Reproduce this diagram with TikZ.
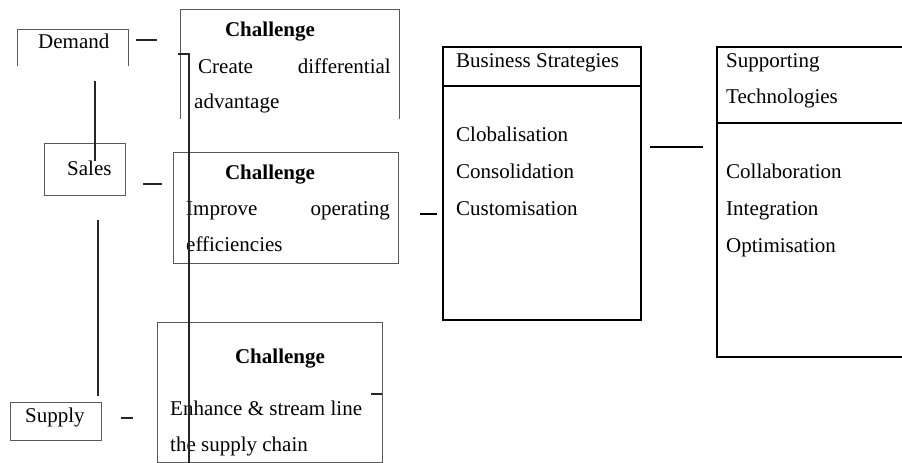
\documentclass[tikz,border=0pt]{standalone}
\usepackage{fontspec}
\setmainfont{Liberation Serif}
\begin{document}
\begin{tikzpicture}[x=1pt,y=-1pt,
  thinbox/.style={draw=black!65, line width=0.9pt},
  thickbox/.style={draw=black, line width=2pt},
  rule/.style={draw=black!85, line width=1.1pt},
  heavyrule/.style={draw=black, line width=1.8pt},
  txt/.style={font=\fontsize{21}{25}\selectfont, inner sep=0pt, anchor=base west},
  txtr/.style={txt, anchor=base east},
  head/.style={font=\fontsize{21}{25}\selectfont\bfseries, inner sep=0pt, anchor=base}]
\useasboundingbox (0,0) rectangle (902,463);
\clip (0,0) rectangle (902,463);

% ---- left column boxes
\draw[thinbox] (17,66) -- (17,29) -- (128,29) -- (128,66);
\node[txt] (demand) at (38,48) {Demand};

\draw[thinbox] (44,143) rectangle (125,195);
\node[txt] (sales) at (67,175) {Sales};

\draw[thinbox] (10,402) rectangle (101,440);
\node[txt] (supply) at (25,422) {Supply};

% ---- challenge boxes
\draw[thinbox] (180,119) -- (180,9) -- (399,9) -- (399,119);
\node[head] (ch1) at (270,36) {Challenge};
\node[txt] (c1a) at (198,73) {Create};
\node[txtr] (c1b) at (391,73) {differential};
\node[txt] (c1c) at (194,108) {advantage};

\draw[thinbox] (173,152) rectangle (398,263);
\node[head] (ch2) at (270,179) {Challenge};
\node[txt] (c2a) at (186,215) {Improve};
\node[txtr] (c2b) at (390,215) {operating};
\node[txt] (c2c) at (186,251) {efficiencies};

\draw[thinbox] (157,322) rectangle (382,462);
\node[head] (ch3) at (280,363) {Challenge};
\node[txt] (c3a) at (170,415) {Enhance \& stream line};
\node[txt] (c3b) at (170,451) {the supply chain};

% ---- business strategies
\draw[thickbox] (443,47) rectangle (641,320);
\draw[thickbox] (443,86) -- (641,86);
\node[txt] (bs) at (456,67) {Business Strategies};
\node[txt] (bs1) at (456,141) {Clobalisation};
\node[txt] (bs2) at (456,178) {Consolidation};
\node[txt] (bs3) at (456,215) {Customisation};

% ---- supporting technologies
\draw[thickbox] (920,47) -- (717,47) -- (717,357) -- (920,357);
\draw[thickbox] (717,123) -- (920,123);
\node[txt] (st1) at (726,67) {Supporting};
\node[txt] (st2) at (726,103) {Technologies};
\node[txt] (st3) at (726,178) {Collaboration};
\node[txt] (st4) at (726,215) {Integration};
\node[txt] (st5) at (726,252) {Optimisation};

% ---- free connector stubs
\coordinate (d1) at (95,81);  \coordinate (d2) at (95,161);
\coordinate (s1) at (98,220); \coordinate (s2) at (98,396);
\coordinate (h1) at (178,54); \coordinate (h2) at (189,54); \coordinate (h3) at (189,470);
\draw[rule] (d1) -- (d2);
\draw[rule] (s1) -- (s2);
\draw[rule] (h1) -- (h2) -- (h3);

\coordinate (a1) at (136,40);  \coordinate (a2) at (157,40);
\coordinate (b1) at (143,184); \coordinate (b2) at (162,184);
\coordinate (e1) at (121,418); \coordinate (e2) at (133,418);
\coordinate (f1) at (371,394); \coordinate (f2) at (382,394);
\coordinate (g1) at (420,214); \coordinate (g2) at (437,214);
\coordinate (k1) at (650,147); \coordinate (k2) at (703,147);
\draw[rule] (a1) -- (a2);
\draw[rule] (b1) -- (b2);
\draw[rule] (e1) -- (e2);
\draw[rule] (f1) -- (f2);
\draw[heavyrule] (g1) -- (g2);
\draw[heavyrule] (k1) -- (k2);
\end{tikzpicture}
\end{document}
